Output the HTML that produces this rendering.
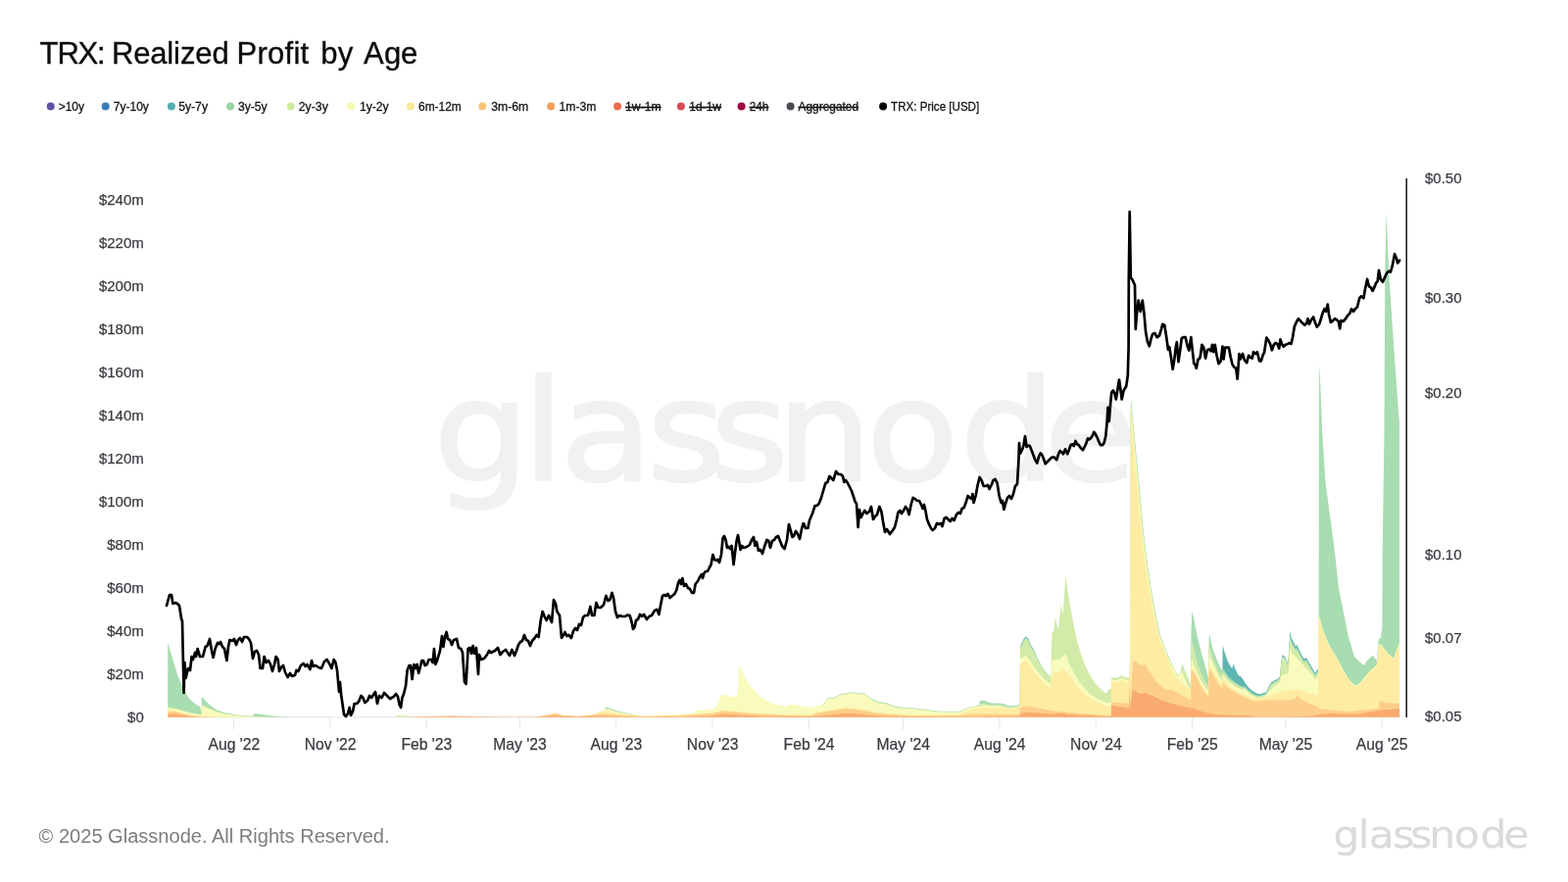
<!DOCTYPE html>
<html lang="en"><head><meta charset="utf-8"><title>TRX: Realized Profit by Age</title>
<style>
html,body{margin:0;padding:0;background:#fff;}
body{width:1600px;height:900px;overflow:hidden;font-family:"Liberation Sans", Arial, sans-serif;}
svg{display:block;position:absolute;left:0;top:0;}
text{font-family:"Liberation Sans", Arial, sans-serif;}
.ax{font-size:15px;fill:#3a3c42;stroke:#3a3c42;stroke-width:0.25px;}
.lg{font-size:12.2px;fill:#151515;stroke:#151515;stroke-width:0.3px;}
.off{text-decoration:line-through;}
</style></head><body>
<svg width="1600" height="900" viewBox="0 0 1600 900">
<rect width="1600" height="900" fill="#ffffff"/>
<text transform="scale(1.0800,1)" x="409.4 493.5 529.1 611.0 670.9 733.6 818.4 906.8 986.3" y="490.0" font-size="143.0" style="font-family:'DejaVu Sans','Liberation Sans',sans-serif" fill="#f1f1f1" stroke="#f1f1f1" stroke-width="2.40" stroke-linejoin="round">glassnode</text>
<text x="40.5 58.4 79.5 99.0 104.8 114.1 136.2 153.3 170.3 177.1 184.0 199.3 216.4 231.6 241.4 262.5 273.0 290.6 299.4 306.4 314.8 327.2 344.8 360.2 371.1 391.9 409.1" y="64.8" font-size="31" fill="#0c0c0c" stroke="#0c0c0c" stroke-width="0.35">TRX: Realized Profit by Age</text>
<g>
<circle cx="51.7" cy="108.6" r="4" fill="#5e4fa2"/>
<text class="lg" x="59.7" y="113.2" textLength="26.3" lengthAdjust="spacingAndGlyphs">&gt;10y</text>
<circle cx="107.7" cy="108.6" r="4" fill="#3a7eb8"/>
<text class="lg" x="115.8" y="113.2" textLength="36.1" lengthAdjust="spacingAndGlyphs">7y-10y</text>
<circle cx="174.9" cy="108.6" r="4" fill="#54aead"/>
<text class="lg" x="182.2" y="113.2" textLength="29.8" lengthAdjust="spacingAndGlyphs">5y-7y</text>
<circle cx="235.0" cy="108.6" r="4" fill="#9bd5a3"/>
<text class="lg" x="243.0" y="113.2" textLength="29.7" lengthAdjust="spacingAndGlyphs">3y-5y</text>
<circle cx="296.7" cy="108.6" r="4" fill="#cfeb9f"/>
<text class="lg" x="304.8" y="113.2" textLength="30.0" lengthAdjust="spacingAndGlyphs">2y-3y</text>
<circle cx="358.1" cy="108.6" r="4" fill="#f4f9b0"/>
<text class="lg" x="366.9" y="113.2" textLength="29.7" lengthAdjust="spacingAndGlyphs">1y-2y</text>
<circle cx="418.9" cy="108.6" r="4" fill="#f9e893"/>
<text class="lg" x="427.0" y="113.2" textLength="43.8" lengthAdjust="spacingAndGlyphs">6m-12m</text>
<circle cx="492.4" cy="108.6" r="4" fill="#f5c673"/>
<text class="lg" x="501.2" y="113.2" textLength="38.0" lengthAdjust="spacingAndGlyphs">3m-6m</text>
<circle cx="562.2" cy="108.6" r="4" fill="#f4a05c"/>
<text class="lg" x="570.6" y="113.2" textLength="37.8" lengthAdjust="spacingAndGlyphs">1m-3m</text>
<circle cx="630.1" cy="108.6" r="4" fill="#ee6a4a"/>
<text class="lg off" x="638.1" y="113.2" textLength="36.5" lengthAdjust="spacingAndGlyphs">1w-1m</text>
<circle cx="694.9" cy="108.6" r="4" fill="#d94a52"/>
<text class="lg off" x="703.3" y="113.2" textLength="32.7" lengthAdjust="spacingAndGlyphs">1d-1w</text>
<circle cx="756.6" cy="108.6" r="4" fill="#9e0142"/>
<text class="lg off" x="764.7" y="113.2" textLength="19.6" lengthAdjust="spacingAndGlyphs">24h</text>
<circle cx="806.6" cy="108.6" r="4" fill="#494b53"/>
<text class="lg off" x="814.6" y="113.2" textLength="61.4" lengthAdjust="spacingAndGlyphs">Aggregated</text>
<circle cx="901.1" cy="108.6" r="4" fill="#000000"/>
<text class="lg" x="909.1" y="113.2" textLength="90.1" lengthAdjust="spacingAndGlyphs">TRX: Price [USD]</text>
</g>
<g stroke="#e6e6e6" stroke-width="1" fill="none">
<line x1="171" y1="731.8" x2="1428" y2="731.8"/>
<line x1="238.6" y1="732" x2="238.6" y2="744.5"/>
<line x1="336.9" y1="732" x2="336.9" y2="744.5"/>
<line x1="435.2" y1="732" x2="435.2" y2="744.5"/>
<line x1="530.3" y1="732" x2="530.3" y2="744.5"/>
<line x1="628.7" y1="732" x2="628.7" y2="744.5"/>
<line x1="727.0" y1="732" x2="727.0" y2="744.5"/>
<line x1="825.3" y1="732" x2="825.3" y2="744.5"/>
<line x1="921.5" y1="732" x2="921.5" y2="744.5"/>
<line x1="1019.9" y1="732" x2="1019.9" y2="744.5"/>
<line x1="1118.2" y1="732" x2="1118.2" y2="744.5"/>
<line x1="1216.5" y1="732" x2="1216.5" y2="744.5"/>
<line x1="1311.7" y1="732" x2="1311.7" y2="744.5"/>
<line x1="1410.0" y1="732" x2="1410.0" y2="744.5"/>
</g>
<g class="ax" text-anchor="middle">
<text x="238.8" y="764.7" font-size="15.7">Aug '22</text>
<text x="337.1" y="764.7" font-size="15.7">Nov '22</text>
<text x="435.4" y="764.7" font-size="15.7">Feb '23</text>
<text x="530.5" y="764.7" font-size="15.7">May '23</text>
<text x="628.9" y="764.7" font-size="15.7">Aug '23</text>
<text x="727.2" y="764.7" font-size="15.7">Nov '23</text>
<text x="825.5" y="764.7" font-size="15.7">Feb '24</text>
<text x="921.7" y="764.7" font-size="15.7">May '24</text>
<text x="1020.1" y="764.7" font-size="15.7">Aug '24</text>
<text x="1118.4" y="764.7" font-size="15.7">Nov '24</text>
<text x="1216.7" y="764.7" font-size="15.7">Feb '25</text>
<text x="1311.9" y="764.7" font-size="15.7">May '25</text>
<text x="1410.2" y="764.7" font-size="15.7">Aug '25</text>
</g>
<g class="ax" text-anchor="end">
<text x="146.8" y="736.5">$0</text>
<text x="146.8" y="692.6">$20m</text>
<text x="146.8" y="648.6">$40m</text>
<text x="146.8" y="604.7">$60m</text>
<text x="146.8" y="560.7">$80m</text>
<text x="146.8" y="516.8">$100m</text>
<text x="146.8" y="472.9">$120m</text>
<text x="146.8" y="428.9">$140m</text>
<text x="146.8" y="385.0">$160m</text>
<text x="146.8" y="341.0">$180m</text>
<text x="146.8" y="297.1">$200m</text>
<text x="146.8" y="253.2">$220m</text>
<text x="146.8" y="209.2">$240m</text>
</g>
<line x1="1435.2" y1="182" x2="1435.2" y2="732" stroke="#000" stroke-width="1.4"/>
<g class="ax" text-anchor="start">
<text x="1454" y="187.2">$0.50</text>
<text x="1454" y="308.9">$0.30</text>
<text x="1454" y="405.5">$0.20</text>
<text x="1454" y="570.7">$0.10</text>
<text x="1454" y="655.7">$0.07</text>
<text x="1454" y="735.9">$0.05</text>
</g>
<g stroke="none">
<path fill="#5fb6b2" d="M170.5,731.7L170.5,731.7L1040.5,731.7L1041.1,659.8L1042.5,656.3L1045.1,651.1L1047.2,649.4L1049.6,652.1L1052.2,659.1L1054.9,662.7L1058.5,671.7L1063.8,681.4L1068.2,687.5L1072.2,691.1L1072.3,731.7L1247.2,731.7L1247.3,685.1L1247.4,685.1L1247.6,658.5L1249.5,665.1L1252.3,673.5L1255.2,679.3L1257.4,682.2L1258.4,677.2L1261.0,683.7L1263.9,689.4L1266.1,690.2L1269.6,695.1L1270.0,696.0L1273.7,700.9L1277.3,704.5L1282.2,707.6L1285.9,708.2L1289.5,707.0L1292.0,706.4L1294.5,700.8L1296.9,696.6L1300.6,694.2L1304.2,692.4L1306.0,690.0L1307.3,676.3L1308.2,668.5L1310.4,669.2L1312.2,672.2L1314.0,677.6L1315.2,667.0L1316.2,643.7L1317.7,650.8L1321.9,659.2L1322.0,659.3L1323.4,658.1L1323.5,658.3L1326.2,664.2L1329.9,671.6L1331.1,672.2L1332.9,671.0L1333.0,671.0L1336.0,676.4L1342.1,686.8L1344.0,683.8L1345.2,682.6L1345.4,626.6L1345.5,731.7L1428.4,731.7L1428.4,731.7 Z"/>
<path fill="#a8dcb1" d="M170.5,731.7L170.5,731.7L171.2,731.7L171.3,656.0L171.5,656.1L173.4,663.2L181.3,689.0L186.7,702.5L190.7,709.1L194.7,714.4L200.0,718.7L204.4,721.3L204.8,725.3L205.4,725.3L205.5,724.4L206.0,710.7L209.3,714.6L213.3,718.6L220.0,724.0L229.3,727.3L240.0,729.3L258.0,730.8L259.4,728.0L266.7,729.1L280.0,730.7L293.3,731.5L299.2,731.6L299.3,731.7L616.9,731.7L617.0,725.6L618.0,721.2L630.0,725.6L644.0,728.8L649.0,729.5L649.1,731.7L839.5,731.7L839.6,719.8L839.7,719.8L839.8,718.8L840.0,718.8L845.0,711.9L851.2,711.9L856.3,708.7L862.5,707.5L870.0,706.3L877.5,707.5L882.5,707.5L889.7,713.5L889.8,713.1L890.0,713.1L896.3,716.3L903.8,716.9L912.5,720.6L921.3,721.9L932.5,722.5L942.5,723.7L955.0,725.6L967.5,726.2L977.5,726.2L983.8,723.7L991.2,721.3L998.7,720.0L1000.0,715.0L1005.0,715.0L1011.3,717.5L1017.5,717.5L1023.7,718.1L1030.0,720.6L1038.7,719.4L1040.4,719.0L1040.5,718.7L1040.6,718.7L1040.7,713.3L1041.1,660.7L1042.5,657.4L1045.1,652.2L1047.2,650.4L1049.6,653.2L1052.2,659.9L1054.9,663.6L1058.5,672.2L1063.8,681.7L1068.2,687.7L1072.0,691.2L1072.2,691.1L1072.3,731.7L1153.2,731.7L1153.3,692.0L1153.4,692.0L1153.6,420.0L1154.2,407.5L1159.4,463.0L1162.8,497.5L1166.9,543.0L1170.5,572.0L1174.6,600.0L1180.0,630.0L1184.0,648.0L1190.0,664.0L1195.9,677.8L1196.2,677.9L1196.4,678.6L1196.5,731.7L1214.8,731.7L1214.9,698.3L1215.0,698.4L1215.1,694.4L1215.5,646.1L1216.2,624.4L1216.3,624.0L1217.7,628.9L1220.6,643.4L1223.5,656.4L1226.3,667.6L1232.1,688.0L1233.1,692.2L1233.2,692.3L1233.3,687.9L1233.6,652.2L1233.9,646.4L1235.7,654.7L1237.9,663.5L1243.7,678.0L1247.3,685.1L1247.4,685.1L1247.6,681.6L1253.8,690.9L1261.0,696.7L1268.2,701.0L1270.0,700.3L1273.7,704.0L1277.3,707.0L1282.2,709.4L1285.9,709.7L1289.5,708.5L1292.0,707.9L1294.5,702.0L1296.9,697.8L1300.6,695.4L1304.2,693.6L1306.0,691.2L1307.3,677.5L1308.2,669.7L1310.4,670.4L1312.2,673.5L1314.0,678.9L1315.2,668.8L1316.2,647.3L1317.7,653.9L1321.9,661.7L1322.0,661.8L1323.4,660.8L1323.5,661.0L1329.9,674.0L1333.0,673.5L1339.6,684.6L1342.1,688.6L1343.9,685.8L1344.9,684.8L1345.0,684.0L1345.1,684.0L1345.2,731.7L1345.5,731.7L1345.9,400.0L1346.4,371.0L1349.2,440.0L1352.6,493.0L1359.8,546.0L1363.0,572.0L1366.0,600.0L1376.0,650.0L1382.0,670.0L1388.0,676.0L1392.0,679.0L1395.0,674.0L1398.0,671.0L1401.0,669.0L1405.0,674.0L1406.6,652.0L1409.0,651.0L1410.4,640.0L1410.6,570.0L1412.5,440.0L1413.3,280.0L1414.6,215.5L1417.3,280.0L1422.7,360.0L1427.5,427.0L1428.0,430.0L1428.1,731.7L1428.4,731.7L1428.4,731.7 Z"/>
<path fill="#d2eba9" d="M170.5,731.7L170.5,731.7L171.2,731.7L171.3,721.3L180.0,722.7L193.3,726.7L204.4,728.9L205.4,728.9L206.0,719.3L220.0,725.6L229.4,728.3L240.0,729.7L258.6,731.1L279.4,731.6L279.5,731.7L403.1,731.7L404.0,730.0L416.0,730.4L416.9,731.7L614.0,731.7L614.1,725.8L617.0,725.6L618.0,722.2L630.0,726.2L644.0,729.0L649.0,729.7L649.1,731.7L839.5,731.7L839.6,719.8L839.7,719.8L839.8,719.2L840.0,719.2L845.0,712.4L851.2,712.4L856.3,709.2L862.5,708.0L870.0,706.8L877.5,708.0L882.5,708.0L889.7,714.0L889.8,713.8L890.0,713.8L896.3,716.8L903.8,717.4L912.5,721.0L921.3,722.3L932.5,722.9L942.5,724.1L955.0,725.9L967.5,726.5L977.5,726.5L983.8,724.0L991.2,721.6L998.7,720.4L1000.0,718.1L1005.0,718.1L1011.3,719.4L1017.5,719.0L1023.7,719.6L1030.0,721.9L1040.4,720.0L1040.5,718.7L1040.6,718.7L1040.7,713.4L1041.1,661.9L1042.5,658.6L1045.1,653.4L1047.2,651.7L1049.6,654.4L1052.2,661.0L1054.9,664.5L1058.5,672.7L1063.8,682.1L1068.2,687.9L1072.0,691.3L1072.1,691.1L1072.3,691.1L1072.7,668.0L1073.6,645.7L1075.3,644.0L1076.8,629.1L1078.9,640.4L1080.3,640.4L1082.4,616.9L1082.5,616.7L1084.5,627.6L1084.6,627.7L1087.4,586.5L1089.6,603.4L1092.2,619.0L1095.8,638.8L1099.4,654.9L1102.9,667.1L1106.5,677.0L1111.8,688.5L1117.1,696.4L1122.4,702.6L1129.0,708.0L1130.5,704.4L1133.1,702.7L1133.9,702.4L1134.0,691.1L1136.7,691.6L1140.2,691.6L1144.7,689.3L1147.3,690.6L1150.0,691.6L1152.5,691.9L1152.6,676.0L1152.7,676.0L1152.8,731.7L1152.9,683.3L1153.0,690.7L1153.1,692.0L1153.4,692.0L1153.7,424.0L1154.2,411.0L1159.0,462.5L1162.5,498.1L1166.6,543.4L1170.2,572.3L1174.3,600.3L1179.6,629.7L1183.7,648.1L1189.7,664.1L1195.6,677.9L1195.7,678.0L1196.0,677.9L1201.8,688.7L1203.9,688.0L1206.4,677.2L1214.9,698.3L1215.1,698.4L1215.5,660.6L1216.2,653.6L1220.6,672.2L1224.9,685.1L1230.7,696.7L1233.2,700.3L1233.6,660.1L1233.9,657.9L1237.9,672.1L1243.7,685.2L1247.3,689.4L1247.4,689.4L1247.6,684.4L1253.8,693.1L1261.0,698.4L1268.2,702.4L1270.0,701.5L1273.7,705.2L1277.3,708.0L1282.2,710.4L1285.9,710.7L1289.5,709.5L1291.4,709.0L1291.5,731.7L1292.3,731.7L1292.4,707.9L1294.5,703.3L1296.9,699.1L1300.6,696.6L1304.2,694.8L1306.0,692.4L1307.3,678.8L1308.2,671.0L1310.4,671.7L1312.2,674.7L1314.0,680.1L1315.2,670.6L1316.2,649.8L1317.7,656.3L1321.9,663.5L1322.0,663.6L1323.4,662.8L1323.5,662.9L1329.9,675.8L1333.0,675.3L1336.0,680.3L1342.1,690.1L1343.9,687.3L1344.9,686.3L1345.0,684.0L1345.1,684.0L1345.2,731.7L1428.4,731.7L1428.4,731.7 Z"/>
<path fill="#f9fbbc" d="M170.5,731.7L170.5,731.7L171.2,731.7L171.3,722.4L180.0,723.7L193.4,727.6L204.4,729.6L205.4,729.6L206.0,720.3L213.3,723.6L220.0,726.3L229.4,728.8L240.0,730.1L258.7,731.3L272.0,731.6L272.1,731.7L608.4,731.7L608.5,728.3L610.0,726.2L614.3,726.0L614.4,731.7L616.8,731.7L616.9,725.7L617.1,725.5L618.0,723.2L630.0,726.8L644.0,729.2L656.2,730.6L656.4,730.8L656.5,731.7L690.0,731.7L690.1,729.4L708.7,727.5L710.0,725.0L727.5,723.8L731.2,721.3L733.1,715.1L736.3,709.4L742.5,708.8L745.0,711.2L751.2,710.6L752.5,707.5L754.4,677.5L756.3,681.4L760.0,691.2L765.0,698.7L771.3,706.3L777.5,711.9L783.7,715.6L790.0,718.1L796.2,720.0L802.5,720.6L807.5,718.8L815.0,720.0L821.2,721.2L830.0,721.9L833.8,720.0L840.0,719.8L845.0,712.9L851.2,712.9L856.3,709.7L862.5,708.5L870.0,707.3L877.5,708.5L882.5,708.5L890.0,714.7L890.2,714.8L890.3,714.9L896.2,717.7L903.8,718.4L912.5,721.9L921.3,723.1L932.5,723.5L955.0,726.2L967.5,726.9L977.5,726.9L983.8,724.4L991.2,722.0L998.7,720.8L1005.0,720.0L1017.5,720.6L1030.0,722.5L1040.4,720.8L1040.5,719.6L1040.6,719.6L1040.7,715.1L1041.1,672.4L1047.2,668.9L1047.3,669.0L1058.5,685.0L1065.6,692.9L1072.1,698.2L1072.3,698.2L1072.7,673.3L1074.5,674.2L1077.1,672.5L1080.3,673.3L1087.4,667.1L1090.5,676.1L1095.8,686.7L1101.1,695.5L1110.0,706.2L1118.9,712.4L1129.1,716.9L1133.9,717.2L1134.0,693.6L1136.7,694.1L1140.2,694.1L1144.7,691.8L1147.3,693.1L1150.0,694.1L1152.5,694.4L1152.6,676.0L1152.7,676.0L1152.8,731.7L1152.9,683.3L1153.1,694.5L1153.2,692.0L1153.4,692.0L1153.8,428.0L1154.2,416.0L1158.4,463.0L1161.8,497.5L1165.9,543.0L1169.5,572.0L1173.6,600.0L1179.0,630.0L1183.0,648.0L1189.0,664.0L1195.0,678.0L1196.0,679.3L1201.8,690.9L1206.4,685.1L1210.4,696.5L1215.0,703.9L1215.5,676.5L1216.2,673.6L1224.9,693.8L1230.7,702.5L1233.2,705.3L1233.6,670.2L1233.9,667.9L1237.9,677.9L1243.6,690.0L1247.3,694.5L1247.4,694.5L1247.6,688.0L1253.8,696.0L1261.0,700.7L1268.2,704.6L1270.0,703.3L1273.7,706.8L1277.3,709.4L1282.2,711.7L1285.9,711.9L1289.6,710.9L1294.5,705.7L1300.6,700.3L1306.0,696.1L1307.3,691.1L1308.2,688.7L1314.0,687.5L1315.2,681.5L1316.2,660.8L1317.7,665.5L1321.9,670.3L1326.2,674.6L1331.1,680.1L1336.0,685.0L1339.7,689.9L1342.1,692.9L1342.2,692.9L1344.9,690.7L1345.0,684.0L1345.2,684.0L1345.4,626.6L1350.0,642.6L1355.0,655.6L1360.0,664.6L1365.0,672.6L1370.0,682.6L1376.0,692.6L1383.0,699.6L1386.0,698.6L1398.0,684.6L1405.0,678.6L1407.0,656.6L1410.0,658.6L1416.0,666.6L1422.0,671.6L1426.0,660.6L1428.0,656.6L1428.1,731.7L1428.4,731.7L1428.4,731.7 Z"/>
<path fill="#feeca3" d="M170.5,731.7L170.5,731.7L171.2,731.7L171.3,724.5L177.3,724.8L194.7,729.5L204.6,730.8L220.0,731.5L231.5,731.6L231.6,731.7L607.8,731.7L607.9,729.0L610.0,726.6L618.0,725.6L630.0,728.0L644.0,729.8L656.0,730.8L690.0,729.4L690.2,729.4L690.3,730.2L708.7,729.0L727.5,727.3L737.5,724.8L746.3,725.3L765.0,727.2L802.5,729.2L827.5,729.5L833.8,726.7L846.3,724.5L862.5,721.9L877.5,723.1L890.2,725.6L890.3,726.3L905.0,727.7L930.0,729.4L955.0,729.5L977.5,729.0L991.2,724.0L1000.0,722.0L1030.0,723.1L1040.4,721.5L1040.5,720.4L1040.6,720.4L1040.7,716.4L1041.1,677.7L1047.2,673.4L1058.5,689.4L1065.6,697.4L1072.1,702.6L1072.3,702.7L1072.7,690.2L1077.1,684.9L1080.3,686.7L1083.3,681.4L1083.4,681.4L1087.4,684.9L1092.2,690.2L1101.1,702.7L1110.0,710.7L1118.9,716.0L1129.0,720.4L1133.9,720.8L1134.0,695.4L1136.7,695.9L1140.2,695.9L1144.7,693.6L1147.3,694.8L1150.0,695.9L1152.5,696.2L1152.6,676.0L1152.7,676.0L1152.8,731.7L1152.9,683.3L1153.1,696.3L1153.2,692.0L1153.4,692.0L1153.9,434.0L1154.2,424.0L1157.1,463.0L1160.5,497.5L1164.6,543.0L1168.2,572.0L1172.3,600.0L1177.7,630.0L1181.7,648.0L1187.7,664.0L1193.7,678.0L1196.0,683.7L1201.8,693.8L1206.4,696.7L1211.9,702.5L1214.9,704.6L1215.1,704.6L1215.2,704.2L1215.5,682.2L1216.2,680.8L1220.6,687.4L1224.9,697.4L1230.7,706.5L1233.2,709.4L1233.6,679.7L1233.9,678.0L1243.6,695.1L1247.3,698.8L1247.4,698.8L1247.6,692.4L1253.8,699.6L1261.0,704.2L1268.2,708.2L1270.0,708.2L1277.3,711.9L1285.9,713.1L1306.7,705.8L1323.8,703.4L1331.1,705.8L1343.3,709.4L1344.9,709.7L1345.0,685.0L1345.2,685.0L1345.4,628.0L1350.0,644.0L1355.0,657.0L1360.0,666.0L1365.0,674.0L1370.0,684.0L1376.0,694.0L1383.0,701.0L1386.0,700.0L1398.0,686.0L1405.0,680.0L1407.0,658.0L1410.0,660.0L1416.0,668.0L1422.0,673.0L1426.0,662.0L1428.0,658.0L1428.1,731.7L1428.4,731.7L1428.4,731.7 Z"/>
<path fill="#fdce8a" d="M170.5,731.7L170.5,731.7L171.2,731.7L171.3,726.7L177.3,726.0L194.7,730.1L204.7,731.2L217.1,731.6L217.2,731.7L550.2,731.7L550.3,731.1L560.0,729.6L566.0,727.6L574.0,729.8L590.0,730.7L604.0,729.6L610.0,728.8L618.0,728.4L630.0,729.8L656.0,731.1L680.0,730.6L690.0,730.2L690.2,730.2L690.3,730.6L727.5,728.1L737.5,725.6L746.3,726.3L765.0,728.1L802.5,730.0L827.5,730.2L833.8,727.5L862.5,723.1L877.5,724.4L890.2,726.9L890.3,727.5L905.0,728.7L930.0,730.5L980.0,730.3L992.5,728.5L1040.4,729.0L1040.5,722.2L1047.3,720.5L1058.4,722.2L1072.1,724.9L1087.4,726.7L1110.0,728.4L1129.0,730.2L1133.9,730.4L1134.0,716.0L1136.7,716.9L1152.5,717.7L1152.6,676.0L1152.8,676.0L1153.3,712.7L1153.4,717.8L1153.5,718.2L1156.0,674.0L1160.0,676.0L1164.0,679.0L1169.0,678.0L1172.0,684.0L1180.0,696.0L1190.0,704.0L1196.0,703.9L1206.4,709.7L1214.9,714.0L1215.1,714.0L1215.2,711.1L1215.5,685.1L1216.2,683.7L1220.6,689.5L1224.9,699.6L1230.7,708.3L1233.2,711.1L1233.6,683.4L1233.9,682.3L1237.9,688.7L1243.7,698.9L1247.3,702.4L1247.4,702.4L1247.6,696.7L1253.8,702.5L1261.0,706.8L1268.2,710.4L1276.0,714.0L1277.4,715.0L1282.2,715.6L1294.5,714.4L1316.5,714.3L1321.3,713.1L1323.4,709.5L1327.5,713.2L1333.6,716.8L1343.3,720.4L1345.4,720.7L1345.5,723.0L1360.0,725.0L1380.0,726.0L1396.0,724.0L1407.0,723.0L1407.4,715.0L1414.0,717.0L1428.0,718.0L1428.1,731.7L1428.4,731.7L1428.4,731.7 Z"/>
<path fill="#f9aa6f" d="M170.5,731.7L170.5,731.7L171.2,731.7L171.3,729.3L177.3,728.3L194.7,730.9L204.7,731.5L217.5,731.7L416.0,731.7L418.0,731.3L440.0,731.1L460.0,730.6L496.0,731.3L520.0,731.4L548.0,731.3L560.0,730.6L566.0,730.0L574.0,730.8L590.0,731.1L618.0,730.6L630.0,731.0L656.0,731.4L690.0,731.2L690.2,731.2L690.3,731.4L727.5,730.4L737.5,728.5L752.5,729.2L777.5,730.7L827.5,731.1L840.0,730.3L865.0,727.8L877.5,728.7L890.0,730.1L905.0,730.7L930.0,731.1L980.0,731.2L1040.4,731.0L1040.5,728.4L1047.3,726.7L1072.2,728.4L1087.4,727.6L1088.7,729.0L1133.9,730.9L1134.0,719.6L1136.7,720.4L1152.5,722.5L1152.6,704.0L1152.8,704.0L1153.4,722.0L1156.0,703.0L1160.0,706.0L1164.0,708.0L1169.0,707.0L1176.0,710.0L1184.0,714.0L1190.0,716.0L1196.0,718.3L1206.4,720.5L1214.9,722.7L1216.3,722.0L1224.9,725.6L1233.1,727.7L1243.7,729.2L1261.0,729.9L1276.0,730.2L1282.3,731.5L1331.1,730.9L1343.4,730.2L1344.9,730.0L1345.0,729.0L1360.0,728.0L1380.0,729.0L1396.0,727.0L1407.0,725.0L1428.0,723.0L1428.1,731.7L1428.4,731.7L1428.4,731.7 Z"/>
</g>
<path d="M170.0,618.0L173.0,607.0L175.0,607.0L176.4,616.0L179.0,615.0L181.0,616.0L183.0,618.0L185.0,631.0L186.0,634.0L187.6,707.0L188.4,676.0L189.6,692.0L192.0,682.0L194.0,684.0L195.6,670.0L197.0,673.0L199.0,666.0L200.0,670.0L201.6,662.0L204.0,670.0L207.0,670.0L209.6,660.0L211.6,659.0L214.0,652.0L216.0,664.0L217.6,671.0L219.6,662.0L222.0,656.0L223.6,657.0L225.0,655.0L227.0,660.0L229.0,662.0L231.4,674.0L233.0,660.0L234.4,653.0L237.0,654.0L239.0,652.0L241.0,658.0L243.0,653.0L245.0,651.0L247.0,655.0L249.0,650.0L252.0,650.0L254.0,652.0L256.0,656.0L258.0,672.0L260.0,665.0L262.0,664.0L264.0,668.0L265.6,682.0L268.0,682.0L269.6,670.0L271.6,676.0L274.0,674.0L276.0,678.0L278.0,685.0L280.0,678.0L281.6,670.0L283.6,673.0L285.0,685.0L287.0,681.0L289.0,679.0L291.0,686.0L293.6,691.0L296.0,687.0L298.0,690.0L301.0,689.0L302.4,684.0L304.4,685.0L307.0,679.0L309.6,677.0L311.6,680.0L313.6,678.0L316.4,683.0L318.0,674.0L319.6,680.0L322.0,679.0L325.0,681.0L328.0,682.0L331.0,675.0L333.6,673.0L336.0,677.0L338.4,682.0L340.6,673.0L342.4,676.0L344.0,684.0L346.0,706.0L347.0,696.0L348.0,708.0L351.0,729.0L353.0,731.0L355.0,728.0L356.6,722.0L358.0,730.0L360.0,726.0L361.6,718.0L364.0,718.0L366.0,716.0L368.4,710.0L370.4,712.0L372.4,717.0L375.0,715.0L377.0,710.0L379.0,712.0L381.0,709.0L383.0,706.0L385.0,718.0L387.0,710.0L389.6,712.0L392.0,707.0L395.0,710.0L398.0,713.0L401.6,711.0L404.0,708.0L406.0,711.0L407.6,719.0L409.0,722.0L410.4,712.0L412.0,708.0L414.0,700.0L415.6,684.0L417.6,679.0L419.0,679.0L420.6,693.0L422.4,678.0L424.0,682.0L425.6,678.0L427.2,687.0L429.0,680.0L430.4,674.0L432.0,674.0L433.6,679.0L435.6,678.0L437.6,673.0L440.0,673.0L441.6,676.0L443.0,662.0L444.4,678.0L446.0,674.0L449.0,664.0L451.0,649.0L452.4,660.0L454.0,650.0L455.6,645.0L457.0,652.0L459.0,653.0L461.0,658.0L463.0,653.0L466.0,652.0L468.0,661.0L470.4,662.0L472.0,666.0L474.0,696.0L475.6,698.0L477.6,662.0L479.6,661.0L481.0,667.0L482.6,659.0L484.0,667.0L486.0,661.0L488.0,688.0L489.0,668.0L491.0,673.0L494.0,672.0L497.0,668.0L499.0,664.0L501.0,666.0L505.0,664.0L508.0,661.0L510.4,668.0L513.0,665.0L516.0,663.0L518.0,666.0L520.0,669.0L522.4,663.0L525.0,669.0L527.0,664.0L529.0,658.0L531.0,655.0L533.0,654.0L535.0,648.0L537.0,653.0L539.0,654.0L541.0,659.0L543.0,654.0L545.6,651.0L547.6,648.0L549.6,650.0L551.6,634.0L553.6,624.0L555.6,629.0L557.6,633.0L560.0,628.0L563.0,635.0L565.0,612.0L567.0,616.0L568.4,624.0L571.0,628.0L573.0,651.0L575.0,648.0L576.4,645.0L578.4,649.0L580.4,648.0L583.0,651.0L585.0,644.0L587.0,641.0L589.0,643.0L591.0,637.0L593.0,638.0L595.0,630.0L597.0,628.0L600.0,628.0L602.4,619.0L604.0,628.0L606.4,628.0L608.4,615.0L610.4,620.0L613.0,620.0L616.0,617.0L618.4,608.0L620.4,613.0L622.4,612.0L624.4,605.0L626.0,610.0L628.0,624.0L630.0,630.0L632.4,628.0L635.0,629.0L638.0,629.0L640.0,627.6L642.6,628.0L644.4,634.0L646.0,642.0L647.6,640.0L649.0,633.0L651.0,632.0L653.0,627.0L655.0,629.0L657.0,627.0L660.0,632.0L662.4,629.0L665.0,628.0L668.0,623.0L670.4,622.0L672.4,627.0L674.0,618.0L676.0,608.0L678.0,607.0L679.6,608.0L681.4,606.0L683.6,610.0L686.0,608.0L688.4,606.0L690.4,602.0L692.0,595.0L693.6,592.0L695.0,596.0L696.4,590.0L698.0,598.0L700.0,596.0L702.0,600.0L704.0,601.0L706.0,605.0L708.0,605.0L709.6,596.0L712.0,593.0L714.0,589.0L716.0,586.0L717.0,590.0L718.4,585.0L720.0,583.0L722.0,583.0L724.0,579.0L725.6,576.0L727.4,566.0L729.0,571.0L731.0,572.0L732.4,571.0L734.0,574.0L736.0,566.0L737.6,549.0L739.0,547.0L740.6,551.0L742.0,559.0L743.6,558.0L745.0,560.0L746.6,557.0L748.6,576.0L750.0,564.0L751.6,552.0L753.0,546.0L754.4,554.0L755.6,561.0L757.0,557.0L759.0,559.0L762.0,558.0L765.0,556.0L767.0,551.0L769.0,548.0L770.4,557.0L772.0,553.0L774.0,562.0L776.0,561.0L778.0,565.0L780.0,558.0L782.4,551.0L784.4,552.0L786.0,559.0L788.0,552.0L790.0,551.0L792.0,548.0L794.0,547.0L796.0,552.0L798.0,557.0L800.6,560.0L803.0,551.0L805.0,535.0L807.0,542.0L808.4,548.0L810.0,547.0L812.0,542.0L814.0,545.0L816.0,550.0L818.0,540.0L819.6,534.0L820.0,534.0L822.0,539.0L824.4,539.0L826.0,531.0L829.0,524.0L831.6,516.0L833.6,516.0L835.6,514.0L838.0,508.0L840.0,501.0L842.4,493.0L844.4,492.0L846.4,486.0L848.4,488.0L850.4,490.0L853.0,481.0L855.6,484.0L858.0,484.0L860.0,486.0L861.4,492.0L863.0,490.0L865.0,493.0L867.0,497.0L869.0,501.0L871.0,507.0L872.6,512.0L874.0,514.0L875.6,538.0L877.0,520.0L878.4,528.0L880.0,525.0L882.4,521.0L884.4,524.0L887.0,522.0L889.0,517.0L891.0,530.0L893.0,527.0L895.0,525.0L897.4,517.0L899.4,522.0L901.0,532.0L903.0,543.0L905.0,540.0L908.0,545.0L911.0,541.0L913.0,538.0L915.0,530.0L916.4,523.0L918.4,521.0L920.0,524.0L922.0,521.0L924.0,517.0L926.0,520.0L927.6,525.0L929.6,515.0L931.6,508.0L933.6,509.0L936.0,511.0L938.0,511.0L940.0,515.0L941.6,519.0L943.0,515.0L944.4,521.0L946.0,530.0L948.0,535.0L950.0,539.0L951.6,541.0L954.0,539.0L956.0,534.0L958.0,535.0L960.0,534.0L961.6,537.0L963.6,529.0L965.6,528.0L967.6,530.0L969.6,532.0L971.6,529.0L973.6,531.0L976.0,525.0L978.0,523.0L980.0,524.0L981.6,519.0L983.6,518.0L985.6,513.0L987.6,506.0L989.6,508.0L991.6,509.0L992.4,504.0L993.6,513.0L995.6,506.0L997.6,495.0L999.6,487.0L1001.6,490.0L1003.6,496.0L1006.0,496.0L1008.0,495.0L1009.6,499.0L1011.6,495.0L1013.6,490.0L1015.6,489.0L1017.6,493.0L1019.6,506.0L1021.6,513.0L1023.0,511.0L1024.4,520.0L1026.0,514.0L1028.0,508.0L1030.0,506.0L1032.0,509.0L1034.0,504.0L1036.0,496.0L1038.0,494.0L1039.4,470.0L1040.0,452.0L1041.0,463.0L1043.0,459.0L1044.4,455.0L1046.0,445.0L1047.6,456.0L1049.2,454.5L1050.8,455.0L1052.5,459.2L1054.7,465.0L1056.3,469.2L1058.3,472.5L1060.0,465.8L1061.7,462.5L1063.3,464.2L1065.0,468.3L1066.7,473.3L1069.2,470.8L1071.7,468.3L1073.3,466.7L1075.8,466.7L1078.3,469.2L1080.0,463.3L1081.7,460.0L1083.7,461.7L1085.0,463.3L1087.0,458.3L1089.2,463.3L1090.8,459.2L1092.5,454.2L1094.2,453.3L1095.8,455.0L1097.5,450.0L1099.2,453.3L1100.8,454.2L1102.5,456.7L1105.0,459.2L1106.7,455.8L1108.3,452.5L1110.0,447.5L1111.7,448.3L1113.3,446.7L1115.0,444.2L1116.3,440.8L1118.0,443.3L1119.7,446.7L1121.3,450.8L1123.0,454.2L1125.0,454.2L1126.7,451.7L1128.3,445.0L1129.7,430.0L1130.5,415.8L1131.7,430.0L1133.0,413.3L1134.2,400.8L1135.8,398.3L1137.5,401.7L1138.8,407.5L1140.5,396.7L1142.0,387.5L1143.3,396.7L1144.7,407.5L1146.7,398.3L1149.2,394.2L1150.8,383.3L1151.6,355.0L1151.8,286.0L1152.7,216.0L1153.8,283.0L1155.8,286.0L1158.0,291.0L1158.8,336.0L1160.0,320.0L1161.7,306.7L1163.7,318.0L1165.8,306.7L1167.5,320.0L1169.0,338.0L1170.8,348.3L1172.8,353.3L1174.7,345.0L1176.3,340.8L1178.3,340.0L1180.8,344.2L1183.0,342.5L1185.0,335.8L1186.3,330.8L1188.3,331.7L1190.0,342.5L1192.0,356.7L1193.3,354.2L1195.0,365.0L1196.7,376.7L1198.3,366.7L1199.7,355.0L1200.8,349.2L1202.5,369.2L1204.2,357.5L1205.8,345.0L1207.5,344.2L1209.7,344.2L1211.7,353.3L1213.3,357.5L1215.3,344.2L1216.7,356.7L1218.3,370.8L1219.7,372.5L1220.8,375.8L1222.5,366.7L1224.2,365.8L1225.1,361.9L1226.4,351.8L1228.2,354.6L1230.1,365.6L1231.9,357.3L1233.8,356.4L1235.6,358.2L1237.0,351.8L1238.3,359.2L1239.8,351.8L1241.6,362.8L1243.5,371.1L1245.7,368.3L1247.5,353.7L1248.6,366.5L1250.2,354.6L1253.9,354.6L1255.8,364.7L1257.6,372.0L1259.4,374.8L1261.2,375.7L1262.7,386.7L1264.5,361.0L1265.8,366.5L1268.0,361.0L1269.9,367.4L1272.2,370.2L1274.1,362.8L1275.9,364.7L1277.8,365.6L1279.0,359.2L1281.0,361.0L1282.9,359.2L1285.1,368.3L1286.9,368.3L1288.8,361.9L1290.0,360.1L1292.4,344.5L1294.2,347.2L1296.1,350.9L1297.9,357.3L1299.8,351.8L1301.6,350.0L1303.4,350.9L1305.2,355.5L1306.5,346.3L1308.0,350.9L1309.8,353.7L1311.7,351.8L1313.9,350.9L1315.7,350.0L1317.5,350.9L1319.0,344.5L1320.8,333.5L1322.7,328.9L1324.9,325.2L1326.7,327.1L1329.1,329.8L1331.3,331.7L1333.3,329.8L1334.6,325.2L1335.9,330.8L1338.2,326.2L1340.1,323.4L1341.9,328.9L1343.8,333.5L1346.1,330.8L1348.0,325.2L1349.8,318.8L1351.6,315.2L1352.9,317.9L1354.8,310.6L1356.0,320.7L1357.9,328.9L1360.2,327.1L1362.1,325.2L1363.9,326.2L1365.8,328.0L1367.2,335.3L1368.5,327.1L1370.7,328.0L1373.1,325.2L1375.5,321.6L1377.3,319.8L1379.1,315.2L1381.0,317.9L1382.8,315.2L1385.0,313.3L1387.2,304.2L1389.0,302.3L1391.4,304.2L1393.2,294.1L1395.1,284.9L1396.9,292.2L1398.8,293.2L1400.6,296.8L1402.4,293.2L1404.2,288.6L1405.7,286.8L1407.0,275.8L1408.8,284.9L1411.0,287.7L1413.4,282.2L1415.2,278.5L1417.1,276.7L1418.9,277.6L1420.8,271.2L1423.1,259.2L1425.0,263.8L1426.2,268.4L1428.1,265.7" fill="none" stroke="#000" stroke-width="2.7" stroke-linejoin="round" stroke-linecap="round"/>
<text x="39.6" y="860" font-size="20" fill="#7d7d7d" textLength="358" lengthAdjust="spacingAndGlyphs">© 2025 Glassnode. All Rights Reserved.</text>
<text transform="scale(1.1000,1)" x="1236.9 1259.8 1269.7 1292.1 1308.5 1325.7 1348.9 1373.1 1394.8" y="865.4" font-size="38.6" style="font-family:'DejaVu Sans','Liberation Sans',sans-serif" fill="#dadada" stroke="#dadada" stroke-width="0.15" stroke-linejoin="round">glassnode</text>
</svg>
</body></html>
